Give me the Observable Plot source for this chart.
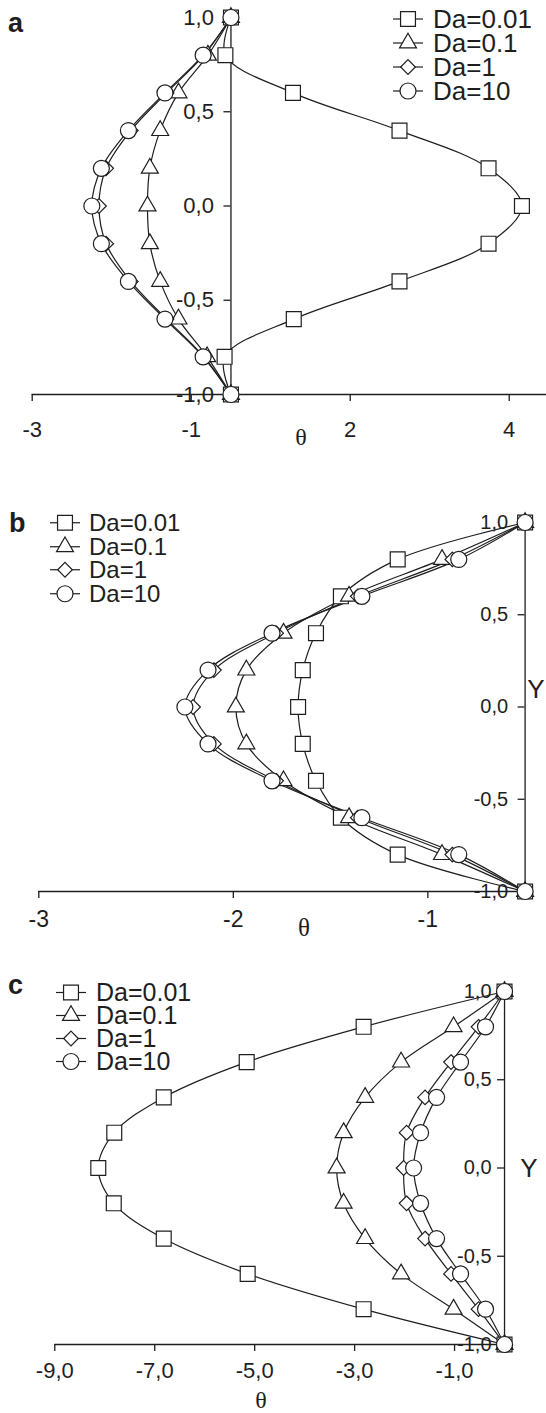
<!DOCTYPE html>
<html><head><meta charset="utf-8">
<script src="https://cdn.jsdelivr.net/npm/d3@7"></script>
<script src="https://cdn.jsdelivr.net/npm/@observablehq/plot@0.6"></script>
<style>
body{margin:0;background:#fff;}
#page{position:relative;width:546px;height:1413px;overflow:hidden;font-family:"Liberation Sans",Arial,sans-serif;color:#1e1e1e;}
.abs{position:absolute;white-space:nowrap;line-height:1;}
.letter{font-weight:bold;font-size:27px;}
.theta{font-family:"Liberation Serif","Times New Roman",serif;transform:translate(-50%,-50%);}
.ylab{transform:translate(-50%,-50%);}
.legrow{display:flex;align-items:center;overflow:visible;}
.legrow svg{display:block;flex:none;}
.legrow span{display:block;overflow:visible;white-space:nowrap;}
</style></head><body><div id="page"></div>
<script>
// ---------- data ----------
const Yvals = [1, 0.8, 0.6, 0.4, 0.2, 0, -0.2, -0.4, -0.6, -0.8, -1];
const daLabels = ["Da=0.01", "Da=0.1", "Da=1", "Da=10"];
const yTickValues = [-1, -0.5, 0, 0.5, 1];
const yTickLabels = ["-1,0", "-0,5", "0,0", "0,5", "1,0"];

// panel a (theta values for each Y above)
const aDa001 = [-0.5, -0.57, 0.28, 1.62, 2.74, 3.16, 2.74, 1.62, 0.29, -0.58, -0.5];
const aDa01  = [-0.5, -0.79, -1.16, -1.39, -1.52, -1.55, -1.52, -1.39, -1.16, -0.80, -0.5];
const aDa1   = [-0.5, -0.84, -1.31, -1.76, -2.07, -2.16, -2.07, -1.76, -1.31, -0.84, -0.5];
const aDa10  = [-0.5, -0.85, -1.33, -1.79, -2.13, -2.25, -2.13, -1.79, -1.33, -0.85, -0.5];
const aXTicks = [-3, -1, 1, 3];
const aXTickLabels = ["-3", "-1", "2", "4"];

// panel b
const bDa001 = [-0.5, -1.155, -1.447, -1.575, -1.643, -1.667, -1.643, -1.575, -1.447, -1.155, -0.5];
const bDa01  = [-0.5, -0.927, -1.405, -1.742, -1.933, -1.987, -1.933, -1.742, -1.405, -0.927, -0.5];
const bDa1   = [-0.5, -0.874, -1.36, -1.78, -2.10, -2.207, -2.10, -1.78, -1.36, -0.874, -0.5];
const bDa10  = [-0.5, -0.841, -1.339, -1.801, -2.130, -2.249, -2.130, -1.801, -1.339, -0.841, -0.5];
const bXTicks = [-3, -2, -1];
const bXTickLabels = ["-3", "-2", "-1"];

// panel c
const cDa001 = [0, -2.82, -5.16, -6.82, -7.81, -8.13, -7.82, -6.82, -5.14, -2.82, 0];
const cDa01  = [0, -1.02, -2.07, -2.79, -3.22, -3.36, -3.22, -2.79, -2.07, -1.02, 0];
const cDa1   = [0, -0.52, -1.07, -1.59, -1.96, -2.02, -1.96, -1.59, -1.07, -0.52, 0];
const cDa10  = [0, -0.38, -0.88, -1.36, -1.68, -1.82, -1.68, -1.36, -0.88, -0.38, 0];
const cXTicks = [-9, -7, -5, -3, -1];
const cXTickLabels = ["-9,0", "-7,0", "-5,0", "-3,0", "-1,0"];

// ---------- styling ----------
const ink = "#1e1e1e";
const symbolTypes = ["square", "triangle", "diamond2", "circle"];
const symbolR = [8.4, 6.3, 6.6, 8];
const d3Sym = [d3.symbolSquare, d3.symbolTriangle, d3.symbolDiamond2, d3.symbolCircle];

const page = document.getElementById("page");

function addText(txt, cls, left, top, size) {
  const el = document.createElement("div");
  el.className = "abs " + cls;
  el.textContent = txt;
  el.style.left = left + "px";
  el.style.top = top + "px";
  if (size) el.style.fontSize = size + "px";
  page.appendChild(el);
}

function addLegend(left, top, rowH, size, gap) {
  const box = document.createElement("div");
  box.className = "abs";
  box.style.left = left + "px";
  box.style.top = top + "px";
  daLabels.forEach((lab, s) => {
    const row = document.createElement("div");
    row.className = "legrow";
    row.style.height = rowH + "px";
    const svg = d3.create("svg").attr("width", 30).attr("height", rowH).style("overflow", "visible");
    svg.append("line").attr("x1", 0).attr("x2", 30).attr("y1", rowH / 2).attr("y2", rowH / 2)
      .attr("stroke", ink).attr("stroke-width", 1.2);
    svg.append("path").attr("d", d3.symbol(d3Sym[s], Math.PI * symbolR[s] * symbolR[s])())
      .attr("transform", `translate(15,${rowH / 2})`)
      .attr("fill", "white").attr("stroke", ink).attr("stroke-width", 1.2);
    row.appendChild(svg.node());
    const sp = document.createElement("span");
    sp.textContent = lab;
    sp.style.fontSize = size + "px";
    sp.style.height = rowH + "px";
    sp.style.lineHeight = rowH + "px";
    sp.style.marginLeft = gap + "px";
    row.appendChild(sp);
    box.appendChild(row);
  });
  page.appendChild(box);
}

function makePanel(cfg) {
  const rows = [];
  cfg.series.forEach((vals, s) => vals.forEach((t, i) => rows.push({s, series: daLabels[s], theta: t, Y: Yvals[i]})));
  const marks = [
    Plot.ruleY([-1], {x1: cfg.xTicks[0], x2: cfg.axisEnd, stroke: ink, strokeWidth: 1.3}),
    Plot.ruleX([cfg.boundary], {y1: -1, y2: 1, stroke: ink, strokeWidth: 1.3}),
    Plot.ruleY(yTickValues, {y: d => d, x1: cfg.boundary, x2: cfg.boundary - cfg.tickLen, stroke: ink, strokeWidth: 1.3}),
    Plot.text(yTickValues, {x: cfg.boundary, y: d => d, text: (d, i) => yTickLabels[i], textAnchor: "end", dx: cfg.yDx, fontSize: cfg.yFont, fill: ink}),
    Plot.axisX({ticks: cfg.xTicks, tickFormat: d => cfg.xTickLabels[cfg.xTicks.indexOf(d)], tickSize: 7, tickPadding: cfg.tickPad, fontSize: cfg.xFont, label: null, stroke: ink, strokeWidth: 1.3, fill: ink}),
    Plot.line(rows, {x: "theta", y: "Y", z: "series", curve: "catmull-rom", stroke: ink, strokeWidth: 1.2})
  ];
  daLabels.forEach((lab, s) => {
    marks.push(Plot.dot(rows.filter(r => r.s === s), {x: "theta", y: "Y", symbol: symbolTypes[s], r: symbolR[s], fill: "white", stroke: ink, strokeWidth: 1.2}));
  });
  const svg = Plot.plot({
    width: 546, height: cfg.height,
    marginTop: cfg.mt, marginBottom: cfg.mb, marginLeft: cfg.ml, marginRight: 0,
    x: {domain: cfg.xDomain, label: null},
    y: {domain: [-1, 1], axis: null},
    style: {fontFamily: "Liberation Sans, Arial, sans-serif", background: "transparent", color: ink, overflow: "visible"},
    marks
  });
  svg.style.position = "absolute";
  svg.style.left = "0px";
  svg.style.top = cfg.top + "px";
  page.appendChild(svg);
}

// panel a
makePanel({top: 0, height: 450, mt: 17, mb: 56, ml: 31.7, xDomain: [-3, 3.469], boundary: -0.5, axisEnd: 3.469,
  tickLen: 0.088, yDx: -17, yFont: 22, xFont: 22, tickPad: 20,
  xTicks: aXTicks, xTickLabels: aXTickLabels, series: [aDa001, aDa01, aDa1, aDa10]});
// panel b
makePanel({top: 450, height: 500, mt: 72, mb: 59, ml: 38.3, xDomain: [-3, -0.39], boundary: -0.5, axisEnd: -0.5,
  tickLen: 0.036, yDx: -17, yFont: 20, xFont: 23, tickPad: 12,
  xTicks: bXTicks, xTickLabels: bXTickLabels, series: [bDa001, bDa01, bDa1, bDa10]});
// panel c
makePanel({top: 950, height: 463, mt: 41, mb: 69, ml: 54.3, xDomain: [-9, 0.84], boundary: 0, axisEnd: 0,
  tickLen: 0.14, yDx: -13, yFont: 20, xFont: 22, tickPad: 11,
  xTicks: cXTicks, xTickLabels: cXTickLabels, series: [cDa001, cDa01, cDa1, cDa10]});

// panel letters
addText("a", "letter", 8, 10);
addText("b", "letter", 9, 510);
addText("c", "letter", 8, 972);
// axis titles
addText("\u03b8", "theta", 301, 437, 24);
addText("\u03b8", "theta", 304, 927, 25);
addText("\u03b8", "theta", 261, 1400, 24);
addText("Y", "ylab", 536, 689, 26);
addText("Y", "ylab", 529, 1168, 26);
// legends
addLegend(393, 7, 24, 26, 10);
addLegend(50, 511, 23.5, 24, 9);
addLegend(56, 981, 23, 25, 10);
</script></body></html>
